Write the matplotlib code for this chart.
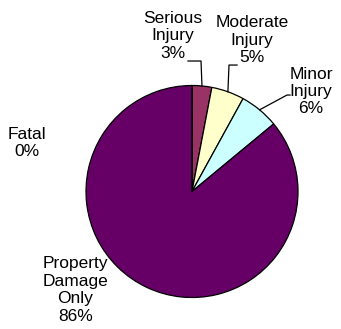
import numpy as np
import matplotlib
matplotlib.use("Agg")
import matplotlib.pyplot as plt

plt.rcParams['font.family'] = ['Liberation Sans', 'DejaVu Sans']

# Crash severity shares (%), clockwise from 12 o'clock
categories = ['Serious\nInjury', 'Moderate\nInjury', 'Minor\nInjury',
              'Property\nDamage\nOnly', 'Fatal']
shares = [3, 5, 6, 86, 0]
colors = ['#993366', '#FFFFCC', '#CCFFFF', '#660066', '#000000']

# label centres and leader-line elbows, in units of pie radius
label_pos = [(-0.18, 1.467), (0.566, 1.429), (1.123, 0.943), (-1.10, -0.93), (-1.557, 0.458)]
elbows = [[(0.085, 1.231), (-0.038, 1.231)],
          [(0.349, 1.193), (0.425, 1.193)],
          [(0.896, 0.910), (0.925, 0.910)],
          None, None]

fig = plt.figure(figsize=(3.41, 3.29), dpi=100)
ax = fig.add_axes([0, 0, 1, 1])

wedges, _ = ax.pie(shares, colors=colors, startangle=90, counterclock=False,
                   radius=1.0, wedgeprops=dict(edgecolor='black', linewidth=0.9))

for w, name, val, pos, elb in zip(wedges, categories, shares, label_pos, elbows):
    ax.text(pos[0], pos[1], f'{name}\n{val}%', ha='center', va='center',
            fontsize=12.5, linespacing=1.2)
    if elb is not None:
        mid = np.deg2rad((w.theta1 + w.theta2) / 2)
        xs = [np.cos(mid)] + [p[0] for p in elb]
        ys = [np.sin(mid)] + [p[1] for p in elb]
        ax.plot(xs, ys, color='black', linewidth=0.9)

# 106 px per unit, pie centre at (192, 191.5) px
ax.set_aspect('auto')
ax.set_xlim(-192 / 106, (341 - 192) / 106)
ax.set_ylim(-(329 - 191.5) / 106, 191.5 / 106)
ax.axis('off')

fig.savefig('out.png', dpi=100)
